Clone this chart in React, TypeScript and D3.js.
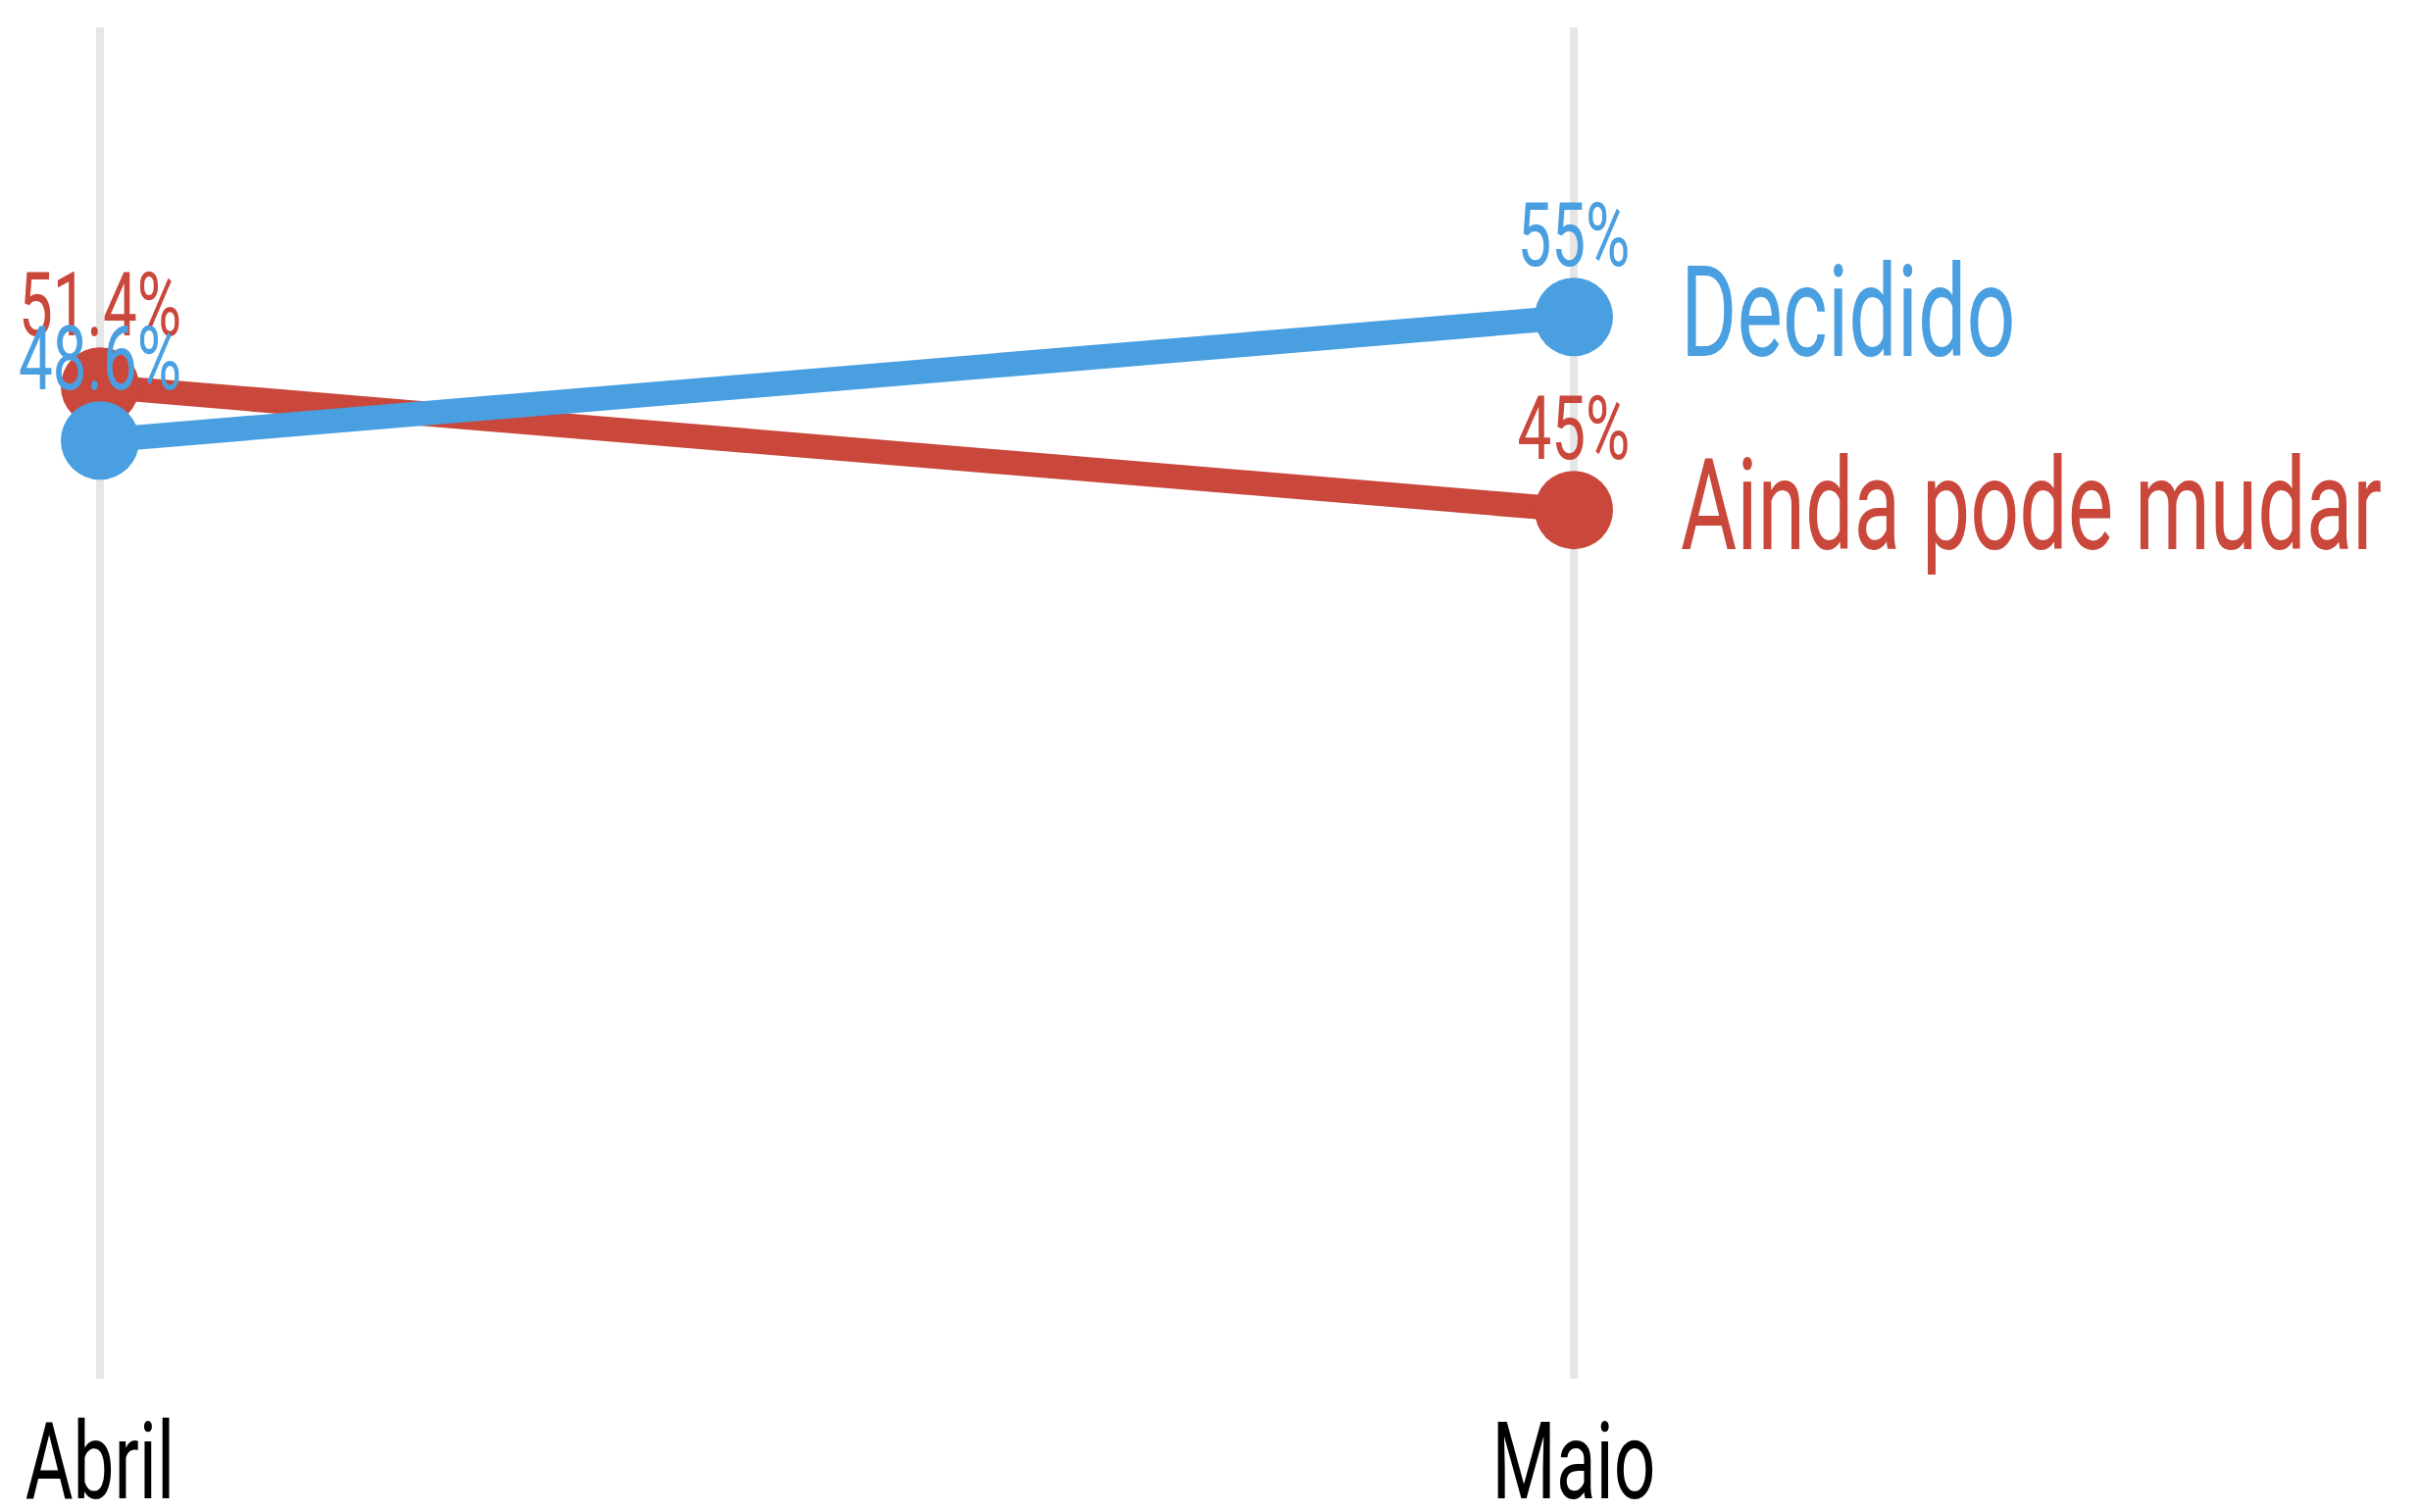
import * as d3 from 'd3';

const WIDTH = 2469;
const HEIGHT = 1542;

const MARGIN = ({
  top: 28, left: 102, right: 864, bottom: 136,
});

const months = ['Abril', 'Maio'];
const decidido = [48.6, 55];
const aindaPode = [51.4, 45];
const seriesNames = ['Ainda pode mudar', 'Decidido'];

const BLUE = '#4a9fe0';
const RED = '#c9473b';
const SX = 0.68;
const FONT = 'Roboto, "Noto Sans", sans-serif';

const series = [
  { name: seriesNames[0], values: aindaPode, color: RED },
  { name: seriesNames[1], values: decidido, color: BLUE },
];

const fmt = (v: number) => `${v}%`;

function Label({ x, y, text, color, size, anchor = 'middle' }:
  { x: number; y: number; text: string; color: string; size: number; anchor?: string }) {
  return (
    <text
      transform={`translate(${x},${y}) scale(${SX},1)`}
      textAnchor={anchor}
      fill={color}
      fontSize={size}
      fontFamily={FONT}
    >
      {text}
    </text>
  );
}

function App() {
  const x = d3.scalePoint()
    .domain(months)
    .range([MARGIN.left, WIDTH - MARGIN.right]);

  const y = d3.scaleLinear()
    .domain([0, 70])
    .range([HEIGHT - MARGIN.bottom, MARGIN.top]);

  const line = d3.line<number>()
    .x((_, i) => x(months[i]) || 0)
    .y((d) => y(d));

  const last = months.length - 1;

  return (
    <svg
      width={WIDTH}
      height={HEIGHT}
      style={{ position: 'absolute', left: 0, top: 0, background: '#fff' }}
    >
      {months.map((m) => (
        <g key={m}>
          <line
            x1={x(m)}
            x2={x(m)}
            y1={y(70)}
            y2={y(0)}
            stroke="#e6e6e6"
            strokeWidth={8}
          />
          <Label x={x(m) || 0} y={1528} text={m} color="#000" size={110} />
        </g>
      ))}

      {series.map((s) => (
        <g key={s.name}>
          <path d={line(s.values) || ''} fill="none" stroke={s.color} strokeWidth={25} />
          {s.values.map((v, i) => (
            <circle key={i} cx={x(months[i])} cy={y(v)} r={40} fill={s.color} />
          ))}
        </g>
      ))}

      {series.map((s) => (
        <g key={`lab-${s.name}`}>
          {s.values.map((v, i) => (
            <Label
              key={i}
              x={x(months[i]) || 0}
              y={y(v) - 52}
              text={fmt(v)}
              color={s.color}
              size={91}
            />
          ))}
          <Label
            x={(x(months[last]) || 0) + 109}
            y={y(s.values[last]) + 40}
            text={s.name}
            color={s.color}
            size={129}
            anchor="start"
          />
        </g>
      ))}
    </svg>
  );
}

export default App;
